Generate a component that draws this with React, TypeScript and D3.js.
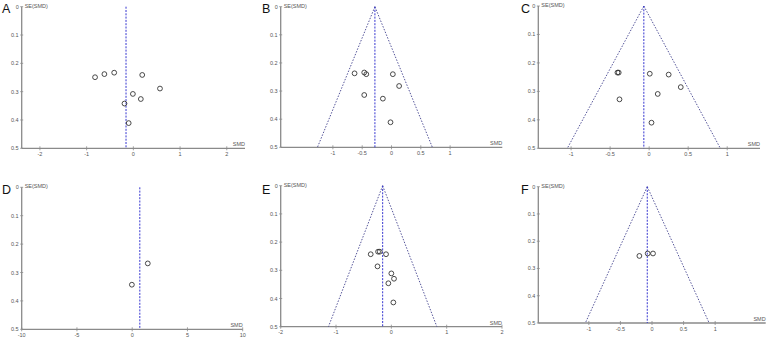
import React from "react";
import * as d3 from "d3";

// ---- data ----
const panelLabels = ["A", "B", "C", "D", "E", "F"];

const smdA = [-0.82, -0.62, -0.41, 0.19, 0.57, -0.01, 0.16, -0.19, -0.1];
const seA = [0.249, 0.238, 0.233, 0.241, 0.289, 0.308, 0.326, 0.342, 0.411];

const smdB = [-0.63, -0.465, -0.43, 0.023, 0.13, -0.465, -0.147, -0.017];
const seB = [0.237, 0.234, 0.24, 0.24, 0.282, 0.314, 0.327, 0.411];

const smdC = [-0.406, -0.39, 0.008, 0.25, 0.405, 0.11, -0.38, 0.03];
const seC = [0.234, 0.234, 0.238, 0.241, 0.285, 0.309, 0.328, 0.41];

const smdD = [1.41, -0.03];
const seD = [0.268, 0.343];

const smdE = [-0.373, -0.24, -0.21, -0.096, -0.25, 0.0, 0.048, -0.054, 0.036];
const seE = [0.243, 0.234, 0.234, 0.243, 0.286, 0.311, 0.33, 0.346, 0.414];

const smdF = [-0.2, -0.068, 0.016];
const seF = [0.254, 0.245, 0.245];

const pooled = [-0.157, -0.283, -0.068, 0.69, -0.157, -0.075];
const showFunnel = [false, true, true, false, true, true];

const xDomains: [number, number][] = [
  [-2.39, 2.39],
  [-1.89, 1.89],
  [-1.42, 1.42],
  [-10, 10],
  [-2, 2],
  [-1.8, 1.8],
];
const xTicksList = [
  [-2, -1, 0, 1, 2],
  [-1, -0.5, 0, 0.5, 1],
  [-1, -0.5, 0, 0.5, 1],
  [-10, -5, 0, 5, 10],
  [-2, -1, 0, 1, 2],
  [-1, -0.5, 0, 0.5, 1],
];
const yTicks = [0, 0.1, 0.2, 0.3, 0.4, 0.5];

const smdList = [smdA, smdB, smdC, smdD, smdE, smdF];
const seList = [seA, seB, seC, seD, seE, seF];

// ---- layout (pixels) ----
const layouts = [
  { left: 21.7, right: 245, top: 6.7, bottom: 148.3, lx: 2, ly: 13 },
  { left: 280.7, right: 502.3, top: 6.7, bottom: 147.3, lx: 262, ly: 13 },
  { left: 538.3, right: 760, top: 6, bottom: 148.3, lx: 521, ly: 13 },
  { left: 21.7, right: 242.7, top: 187.3, bottom: 329.3, lx: 2, ly: 194 },
  { left: 280.7, right: 502, top: 185.7, bottom: 326.7, lx: 262, ly: 194 },
  { left: 538.3, right: 765.7, top: 186.7, bottom: 323, lx: 521, ly: 194 },
];

const AXIS = "#8a8a8a";
const TXT = "#555";
const BLUE = "#3636d0";
const FUNNEL = "#55559a";
const FONT = "'Liberation Sans', Arial, sans-serif";

function fmt(v: number) {
  return String(v);
}

function Panel({ i }: { i: number }) {
  const L = layouts[i];
  const x = d3.scaleLinear().domain(xDomains[i]).range([L.left, L.right]);
  const y = d3.scaleLinear().domain([0, 0.5]).range([L.top, L.bottom]);
  const c = pooled[i];
  const smd = smdList[i];
  const se = seList[i];
  const funnelLeft = d3.line<number>()
    .x((s) => x(c - 1.96 * s))
    .y((s) => y(s))([0, 0.5]);
  const funnelRight = d3.line<number>()
    .x((s) => x(c + 1.96 * s))
    .y((s) => y(s))([0, 0.5]);
  return (
    <g>
      <text x={L.lx} y={L.ly} fontSize={12.5} fontFamily={FONT} fill="#111">
        {panelLabels[i]}
      </text>
      {/* y axis */}
      <line x1={L.left} x2={L.left} y1={y(0)} y2={y(0.5)} stroke={AXIS} strokeWidth={1.3} />
      {yTicks.map((t) => (
        <g key={t}>
          <line x1={L.left - 1.5} x2={L.left + 1.5} y1={y(t)} y2={y(t)} stroke={AXIS} strokeWidth={0.8} />
          <text x={L.left - 3} y={y(t) + 2} fontSize={5.5} fill={TXT} textAnchor="end" fontFamily={FONT}>
            {fmt(t)}
          </text>
        </g>
      ))}
      <text x={L.left + 3} y={L.top + 1} fontSize={5.5} fill={TXT} fontFamily={FONT}>
        SE(SMD)
      </text>
      {/* x axis */}
      <line x1={L.left} x2={L.right} y1={y(0.5)} y2={y(0.5)} stroke={AXIS} strokeWidth={1.3} />
      {xTicksList[i].map((t) => (
        <g key={t}>
          <line x1={x(t)} x2={x(t)} y1={y(0.5) - 2} y2={y(0.5) + 2} stroke={AXIS} strokeWidth={0.8} />
          <text x={x(t)} y={y(0.5) + 7.5} fontSize={5.5} fill={TXT} textAnchor="middle" fontFamily={FONT}>
            {fmt(t)}
          </text>
        </g>
      ))}
      <text x={L.right} y={y(0.5) - 2} fontSize={5.5} fill={TXT} textAnchor="end" fontFamily={FONT}>
        SMD
      </text>
      {/* funnel */}
      {showFunnel[i] && (
        <>
          <path d={funnelLeft || ""} stroke={FUNNEL} strokeWidth={1} strokeDasharray="1.5,1.5" fill="none" />
          <path d={funnelRight || ""} stroke={FUNNEL} strokeWidth={1} strokeDasharray="1.5,1.5" fill="none" />
        </>
      )}
      <line x1={x(c)} x2={x(c)} y1={y(0)} y2={y(0.5)} stroke={BLUE} strokeWidth={1} strokeDasharray="2,1.3" />
      {/* points */}
      {smd.map((v, k) => (
        <circle key={k} cx={x(v)} cy={y(se[k])} r={2.4} fill="none" stroke="#2a2a2a" strokeWidth={0.85} />
      ))}
    </g>
  );
}

export default function App() {
  return (
    <svg
      width={767}
      height={339}
      style={{ position: "absolute", left: 0, top: 0, background: "#fff" }}
    >
      <rect width={767} height={339} fill="#fff" />
      {panelLabels.map((_, i) => (
        <Panel key={i} i={i} />
      ))}
    </svg>
  );
}
